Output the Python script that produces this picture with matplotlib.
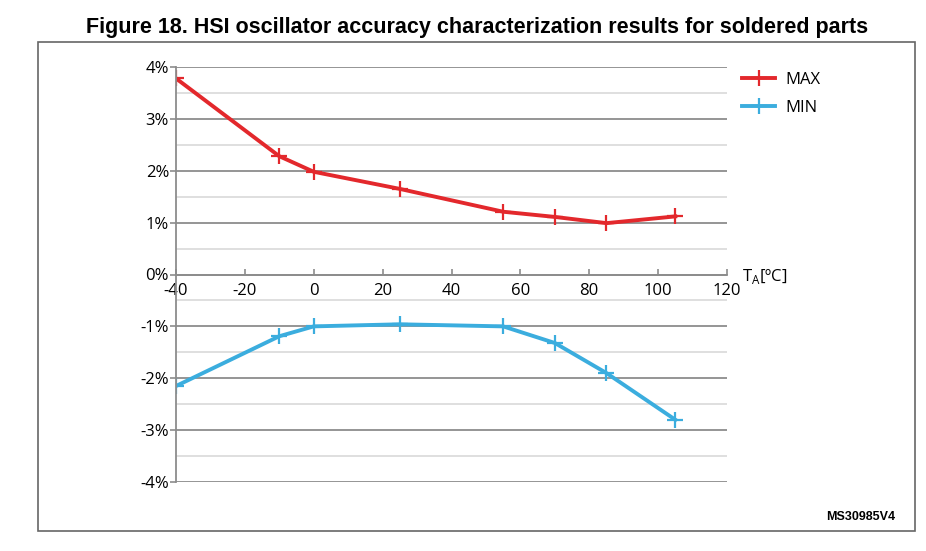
import matplotlib
matplotlib.use("Agg")
import matplotlib.pyplot as plt
from matplotlib.patches import Rectangle
from matplotlib.ticker import MultipleLocator, FuncFormatter

# temperature points (degC)
temps = [-40, -10, 0, 25, 55, 70, 85, 105]
# accuracy in %
max_vals = [3.78, 2.28, 1.98, 1.65, 1.21, 1.11, 0.99, 1.12]
min_vals = [-2.15, -1.19, -1.0, -0.96, -1.0, -1.32, -1.9, -2.8]

RED = '#e3282c'
BLUE = '#3badde'

plt.rcParams['axes.unicode_minus'] = False

W, H = 926, 551
fig = plt.figure(figsize=(W / 100, H / 100), dpi=100)

# outer frame around the figure
fig.patches.append(Rectangle((38 / W, 1 - 531 / H), (915 - 38) / W, (531 - 42) / H,
                             transform=fig.transFigure, fill=False,
                             edgecolor='#666666', linewidth=1.2))

fig.text(0.5155, 1 - 27 / H,
         'Figure 18. HSI oscillator accuracy characterization results for soldered parts',
         ha='center', va='center', fontsize=15.5, fontweight='bold',
         family='Liberation Sans')

ax = fig.add_axes([176 / W, 1 - 482 / H, (727 - 176) / W, (482 - 67) / H])

ax.plot(temps, max_vals, color=RED, lw=2.8, marker='+', ms=11, mew=1.6, label='MAX')
ax.plot(temps, min_vals, color=BLUE, lw=2.8, marker='+', ms=11, mew=1.6, label='MIN')

ax.set_xlim(-40, 120)
ax.set_ylim(-4, 4)
ax.xaxis.set_major_locator(MultipleLocator(20))
ax.yaxis.set_major_locator(MultipleLocator(1))
ax.yaxis.set_minor_locator(MultipleLocator(0.5))
ax.yaxis.set_major_formatter(FuncFormatter(lambda v, p: '%d%%' % round(v)))

ax.grid(axis='y', which='major', color='#8c8c8c', lw=1.3)
ax.grid(axis='y', which='minor', color='#dcdcdc', lw=1.3)
ax.set_axisbelow(True)

for s in ['top', 'right']:
    ax.spines[s].set_visible(False)
ax.spines['bottom'].set_position(('data', 0))
ax.spines['bottom'].set_color('#8c8c8c')
ax.spines['bottom'].set_linewidth(1.3)
ax.spines['left'].set_color('#8c8c8c')
ax.spines['left'].set_linewidth(1.3)

ax.tick_params(axis='x', direction='in', length=4, color='#8c8c8c', width=1.2,
               labelsize=12, pad=6)
ax.tick_params(axis='y', which='major', direction='out', length=4, color='#8c8c8c',
               width=1.2, labelsize=12, pad=1)
ax.tick_params(axis='y', which='minor', length=0)
for lab in ax.get_xticklabels() + ax.get_yticklabels():
    lab.set_family('Open Sans')

ax.text(124.5, -0.22, r'T$_\mathregular{A}$[ºC]', fontsize=12, family='Open Sans',
        ha='left', va='bottom')

ax.legend(loc='upper left', bbox_to_anchor=(1.0, 1.025), frameon=False,
          prop={'family': 'Open Sans', 'size': 12}, handlelength=2.0,
          labelspacing=0.75, handletextpad=0.6)

fig.text(895 / W, 1 - 517 / H, 'MS30985V4', ha='right', va='center', fontsize=9,
         fontweight='bold', family='Liberation Sans')

fig.savefig('out.png', dpi=100)
